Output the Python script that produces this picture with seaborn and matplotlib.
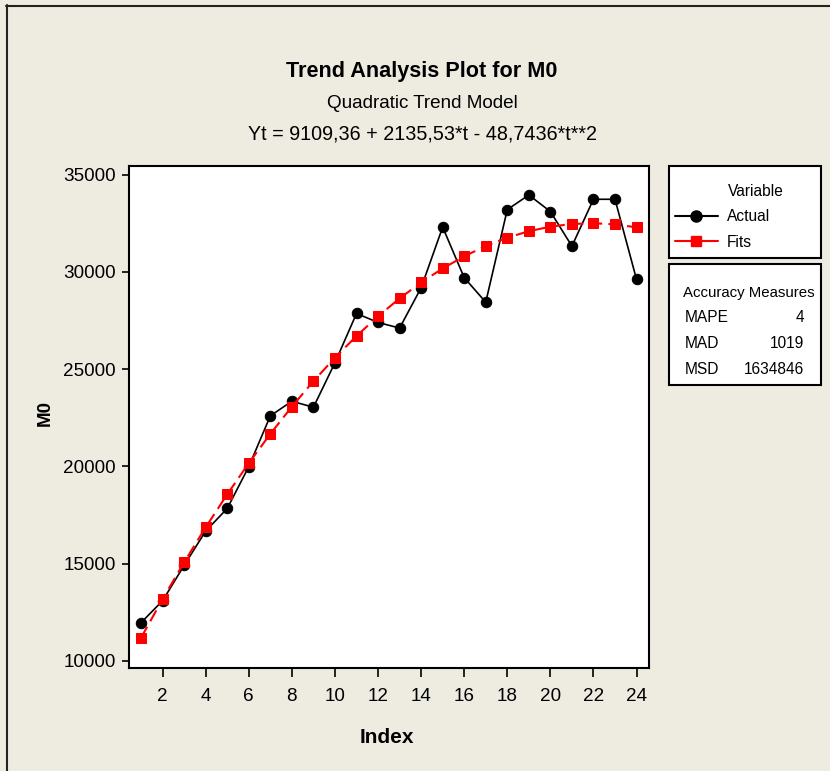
import matplotlib.pyplot as plt
import seaborn as sns
from matplotlib.lines import Line2D
from matplotlib.patches import Rectangle

# data
index = [1, 2, 3, 4, 5, 6, 7, 8, 9, 10, 11, 12,
         13, 14, 15, 16, 17, 18, 19, 20, 21, 22, 23, 24]
actual = [11970, 13100, 14920, 16680, 17840, 19990, 22600, 23350,
          23040, 25330, 27860, 27400, 27110, 29180, 32300, 29700,
          28440, 33200, 33950, 33100, 31320, 33730, 33730, 29610]
fits = [11196, 13185, 15077, 16872, 18568, 20168, 21670, 23074,
        24381, 25590, 26702, 27717, 28634, 29453, 30175, 30799,
        31326, 31756, 32088, 32323, 32460, 32499, 32441, 32286]
series_names = ['Actual', 'Fits']
measure_names = ['MAPE', 'MAD', 'MSD']
measure_values = ['4', '1019', '1634846']
x_ticks = [2, 4, 6, 8, 10, 12, 14, 16, 18, 20, 22, 24]
y_ticks = [10000, 15000, 20000, 25000, 30000, 35000]

BG = '#EEEBE1'
RED = '#FF0000'
W, H = 830, 771

sns.set_theme(style='ticks', rc={
    'figure.facecolor': BG,
    'axes.facecolor': 'white',
    'axes.edgecolor': 'black',
    'axes.linewidth': 1.5,
    'axes.labelcolor': 'black',
    'text.color': 'black',
    'xtick.color': 'black',
    'ytick.color': 'black',
    'xtick.major.width': 1.2,
    'ytick.major.width': 1.2,
})
plt.rcParams['font.family'] = ['Liberation Sans Narrow', 'Liberation Sans', 'DejaVu Sans']


def fx(px):
    return px / W


def fy(py):
    return 1 - py / H


fig = plt.figure(figsize=(W / 100, H / 100), dpi=100)
ax = fig.add_axes([fx(128.6), fy(668), (648.6 - 128.6) / W, (668 - 166) / H])

sns.lineplot(x=index, y=actual, ax=ax, color='black', lw=1.2,
             marker='o', markersize=7.5, markeredgecolor='black',
             legend=False, zorder=3)
sns.lineplot(x=index, y=fits, ax=ax, color=RED, lw=1.5,
             linestyle=(0, (6, 3)), marker='s', markersize=7,
             markeredgecolor=RED, legend=False, zorder=4)

ax.set_xlim(0.42, 24.56)
ax.set_ylim(9640, 35440)
ax.set_xticks(x_ticks)
ax.set_yticks(y_ticks)
ax.tick_params(axis='x', length=6.5, pad=8, labelsize=13.6, direction='out')
ax.tick_params(axis='y', length=5, pad=4, labelsize=13.6, direction='out')
for s in ax.spines.values():
    s.set_visible(True)
    s.set_linewidth(1.5)

ax.set_xlabel('Index', fontsize=15, fontweight='bold', va='baseline')
ax.xaxis.set_label_coords(0.496, (668 - 743) / 502)
ax.set_ylabel('M0', fontsize=13.5, fontweight='bold', va='center')
ax.yaxis.set_label_coords((45.5 - 128.6) / 520, 0.508)

# titles
fig.text(fx(422), fy(76.7), 'Trend Analysis Plot for M0', ha='center',
         va='baseline', fontsize=15.6, fontweight='bold')
fig.text(fx(422), fy(107.7), 'Quadratic Trend Model', ha='center',
         va='baseline', fontsize=13.6)
fig.text(fx(422), fy(140), 'Yt = 9109,36 + 2135,53*t - 48,7436*t**2',
         ha='center', va='baseline', fontsize=14.2)

# legend box
fig.add_artist(Rectangle((fx(669), fy(258)), 152 / W, 92 / H,
                         transform=fig.transFigure, facecolor='white',
                         edgecolor='black', lw=1.5))
fig.text(fx(728), fy(196), 'Variable', va='baseline', fontsize=11.2)
handles = [
    Line2D([], [], color='black', lw=1.5, marker='o', markersize=8),
    Line2D([], [], color=RED, lw=1.5, marker='s', markersize=7),
]
fig.legend(handles, series_names, loc='upper left', frameon=False,
           bbox_to_anchor=(fx(675), fy(209)), borderpad=0, borderaxespad=0,
           handlelength=2.75, handletextpad=0.6, labelspacing=0.7,
           fontsize=11.2)

# accuracy measures box
fig.add_artist(Rectangle((fx(669), fy(385)), 152 / W, 121 / H,
                         transform=fig.transFigure, facecolor='white',
                         edgecolor='black', lw=1.5))
fig.text(fx(682.7), fy(297.3), 'Accuracy Measures', va='baseline', fontsize=10.8)
for name, val, base in zip(measure_names, measure_values, [322.3, 347.7, 374]):
    fig.text(fx(685), fy(base), name, va='baseline', fontsize=11.2)
    fig.text(fx(804.3), fy(base), val, va='baseline', ha='right', fontsize=11.2)

# outer frame (top and left edges)
fig.add_artist(Line2D([fx(6), 1], [fy(5.5), fy(5.5)], color='#222222', lw=1.5,
                      transform=fig.transFigure))
fig.add_artist(Line2D([fx(6.5), fx(6.5)], [fy(5), 0], color='#222222', lw=1.5,
                      transform=fig.transFigure))

fig.savefig('out.png', dpi=100, facecolor=BG)
